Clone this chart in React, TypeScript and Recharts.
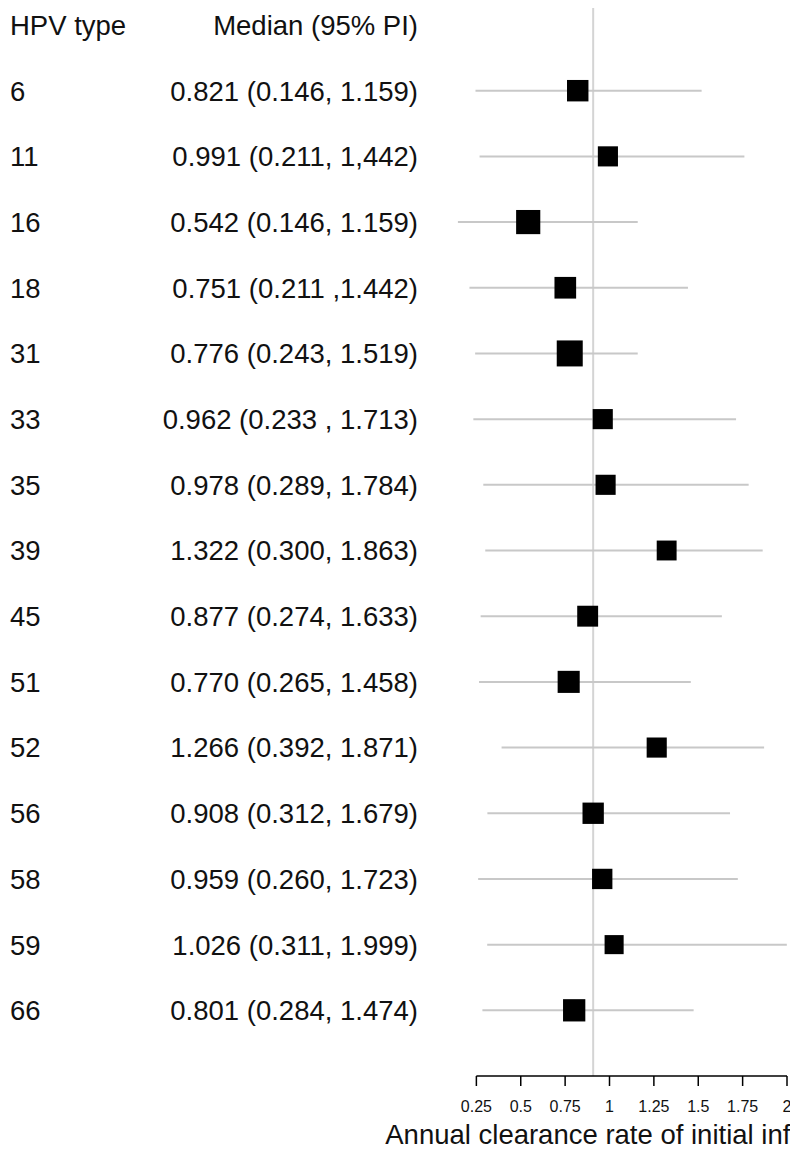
import {
  ScatterChart,
  Scatter,
  XAxis,
  YAxis,
  ZAxis,
  ErrorBar,
  ReferenceLine,
  Label
} from "recharts";

// rows, top to bottom
const hpvTypes = ["6", "11", "16", "18", "31", "33", "35", "39", "45", "51", "52", "56", "58", "59", "66"];

const intervalText = [
  "0.821 (0.146, 1.159)",
  "0.991 (0.211, 1,442)",
  "0.542 (0.146, 1.159)",
  "0.751 (0.211 ,1.442)",
  "0.776 (0.243, 1.519)",
  "0.962 (0.233 , 1.713)",
  "0.978 (0.289, 1.784)",
  "1.322 (0.300, 1.863)",
  "0.877 (0.274, 1.633)",
  "0.770 (0.265, 1.458)",
  "1.266 (0.392, 1.871)",
  "0.908 (0.312, 1.679)",
  "0.959 (0.260, 1.723)",
  "1.026 (0.311, 1.999)",
  "0.801 (0.284, 1.474)"
];

const medians = [0.821, 0.991, 0.542, 0.751, 0.776, 0.962, 0.978, 1.322, 0.877, 0.77, 1.266, 0.908, 0.959, 1.026, 0.801];

// interval ends as drawn in the figure
const lowerBounds = [0.245, 0.268, 0.146, 0.211, 0.243, 0.233, 0.289, 0.3, 0.274, 0.265, 0.392, 0.312, 0.26, 0.311, 0.284];
const upperBounds = [1.519, 1.76, 1.159, 1.442, 1.159, 1.713, 1.784, 1.863, 1.633, 1.458, 1.871, 1.679, 1.723, 1.999, 1.474];

// relative weight of each estimate (box area)
const weights = [53, 41, 80, 55, 100, 41, 41, 39, 48, 59, 41, 52, 43, 32, 61];

const xTicks = [0.25, 0.5, 0.75, 1, 1.25, 1.5, 1.75, 2];
const overallRate = 0.908;

const rows = hpvTypes.map((t, i) => ({
  row: i + 1,
  type: t,
  median: medians[i],
  err: [medians[i] - lowerBounds[i], upperBounds[i] - medians[i]],
  weight: weights[i]
}));

const rowTicks = [0, ...rows.map(r => r.row)];
const lastRow = rows.length + 1;

function RowLabel(props: any) {
  const { y, payload } = props;
  const i = payload.value;
  const left = i === 0 ? "HPV type" : hpvTypes[i - 1];
  const right = i === 0 ? "Median (95% PI)" : intervalText[i - 1];
  return (
    <g fontSize={27.5} fill="#111">
      <text x={10} y={y} dy="0.36em">{left}</text>
      <text x={418} y={y} dy="0.36em" textAnchor="end">{right}</text>
    </g>
  );
}

// box whose area follows the z scale
function Box(props: any) {
  const { cx, cy, size, width } = props;
  const side = size ? Math.sqrt(size) : (width || 0) * Math.sqrt(Math.PI) / 2;
  return <rect x={cx - side / 2} y={cy - side / 2} width={side} height={side} fill="#000" />;
}

export default function App() {
  return (
    <div style={{ width: 790, height: 1157, overflow: "hidden", background: "#fff", fontFamily: "'Liberation Sans', Arial, sans-serif" }}>
      <style>{"body{margin:0}"}</style>

      <ScatterChart width={790} height={1157} margin={{ top: 8, right: 3, bottom: 0, left: 0 }}>

        <XAxis
          type="number"
          dataKey="median"
          domain={[0, 2]}
          ticks={xTicks}
          interval={0}
          axisLine={false}
          tickLine={{ stroke: "#000", strokeWidth: 1.5 }}
          tickSize={10}
          tickMargin={15}
          tick={{ fontSize: 16, fill: "#111" }}
          height={81}
        >
          <Label
            value="Annual clearance rate of initial infection"
            position="insideBottom"
            offset={13}
            dx={15}
            fontSize={27.5}
            fill="#111"
          />
        </XAxis>

        <YAxis
          type="number"
          dataKey="row"
          domain={[0, lastRow]}
          reversed
          ticks={rowTicks}
          interval={0}
          axisLine={false}
          tickLine={false}
          width={432}
          padding={{ top: 17, bottom: 0 }}
          tick={<RowLabel />}
        />

        <ZAxis type="number" dataKey="weight" range={[216, 676]} />

        <ReferenceLine x={overallRate} stroke="#d4d4d4" strokeWidth={2} />

        <ReferenceLine
          segment={[{ x: xTicks[0], y: lastRow }, { x: xTicks[xTicks.length - 1], y: lastRow }]}
          stroke="#000"
          strokeWidth={1.5}
          ifOverflow="visible"
        />

        <Scatter data={rows} fill="#000" shape={<Box />} isAnimationActive={false}>
          <ErrorBar dataKey="err" direction="x" width={0} stroke="#c8c8c8" strokeWidth={2} />
        </Scatter>

      </ScatterChart>

    </div>
  );
}
